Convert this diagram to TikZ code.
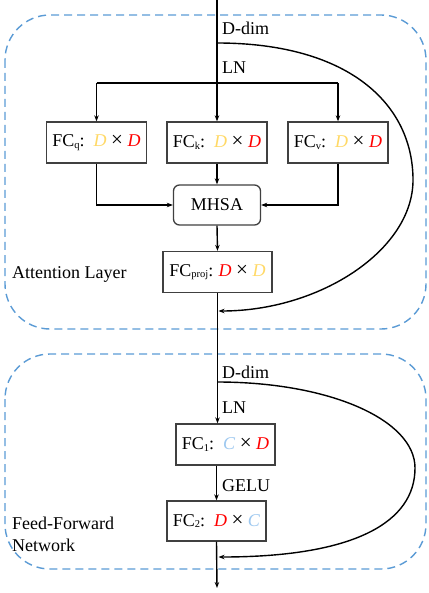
\documentclass[tikz,border=0pt]{standalone}
\usepackage{fontspec}
\setmainfont{Liberation Serif}
\usetikzlibrary{arrows.meta}
\definecolor{dyellow}{RGB}{255,217,102}
\definecolor{dred}{RGB}{255,0,0}
\definecolor{lblue}{RGB}{157,200,240}
\definecolor{dashblue}{RGB}{91,155,213}
\newcommand\fcsub[1]{\raisebox{-1.5pt}{\fontsize{10.5}{10}\selectfont #1}}
\newcommand\Y{{\color{dyellow}\textit{D}}}
\newcommand\R{{\color{dred}\textit{D}}}
\newcommand\B{{\color{lblue}\textit{C}}}
\newcommand\X{\ {\fontsize{21}{20}\selectfont ×}\ }
\begin{document}
\begin{tikzpicture}[x=1pt,y=-1pt,
  txt/.style={font=\fontsize{18}{20}\selectfont, inner sep=0pt},
  box/.style={draw=black!75, line width=1.3pt, fill=white, inner sep=0pt,
    font=\fontsize{18}{20}\selectfont, minimum height=41pt},
  conn/.style={line width=1.4pt, black},
  arr/.style={conn, -{Stealth[length=6pt,width=4.5pt]}},
  dashbox/.style={draw=dashblue, line width=1.4pt, dash pattern=on 8pt off 5pt, rounded corners=45pt}]
\useasboundingbox (0,0) rectangle (428,593);
% panels
\draw[dashbox] (5,15) rectangle (426,329);
\draw[dashbox] (5,354) rectangle (426,569);
% nodes
\node[box, minimum width=100pt] (fcq) at (96.5,142.5) {FC\fcsub{q}:\hspace{0.5em}\Y\X\R};
\node[box, minimum width=100pt] (fck) at (217,142.5) {FC\fcsub{k}:\hspace{0.5em}\Y\X\R};
\node[box, minimum width=100pt] (fcv) at (338,142.5) {FC\fcsub{v}:\hspace{0.5em}\Y\X\R};
\node[box, minimum width=87pt, minimum height=40pt, rounded corners=6pt] (mhsa) at (217,205) {MHSA};
\node[box, minimum width=109pt] (fcp) at (217.5,272) {FC\fcsub{proj}:\hspace{0.3em}\R\X\Y};
\node[box, minimum width=99pt] (fc1) at (225.5,444.5) {FC\fcsub{1}:\hspace{0.5em}\B\X\R};
\node[box, minimum width=99pt, minimum height=40pt] (fc2) at (216.5,521) {FC\fcsub{2}:\hspace{0.5em}\R\X\B};
% labels
\node[txt, anchor=west] (ddim1) at (222,28) {D-dim};
\node[txt, anchor=west] (ln1) at (222,68) {LN};
\node[txt, anchor=west] (att) at (12,274) {Attention Layer};
\node[txt, anchor=west] (ddim2) at (222,372) {D-dim};
\node[txt, anchor=west] (ln2) at (222,408) {LN};
\node[txt, anchor=west] (gelu) at (222,486) {GELU};
\node[txt, anchor=west, align=left, font=\fontsize{18}{22}\selectfont] (ffn) at (12,534) {Feed-Forward\\Network};
% coordinates
\coordinate (top) at (217,0);
\coordinate (b1) at (217,43);
\coordinate (hl) at (96.5,83);
\coordinate (hr) at (338,83);
\coordinate (m1) at (218.5,311);
\coordinate (b2) at (217,382);
\coordinate (m2) at (218.5,557);
\coordinate (bot) at (217,588);
% connectors
\draw[arr] (top) -- (fck.north);
\draw[conn] (hl) -- (hr);
\draw[arr] (hl) -- (fcq.north);
\draw[arr] (hr) -- (fcv.north);
\draw[arr] (fck.south) -- (mhsa.north);
\draw[arr] (fcq.south) |- (mhsa.west);
\draw[arr] (fcv.south) |- (mhsa.east);
\draw[arr] (mhsa.south) -- (fcp.north);
\draw[arr] (fcp.south) -- (fcp.south |- fc1.north);
\draw[arr] (fc2.south |- fc1.south) -- (fc2.north);
\draw[arr] (fc2.south) -- (bot);
\draw[arr] (b1) .. controls (350,43) and (413,105) .. (413,180)
  .. controls (413,250) and (320,311) .. (m1);
\draw[arr] (b2) .. controls (330,382) and (415,420) .. (415,468)
  .. controls (415,522) and (355,557) .. (m2);
\end{tikzpicture}
\end{document}
